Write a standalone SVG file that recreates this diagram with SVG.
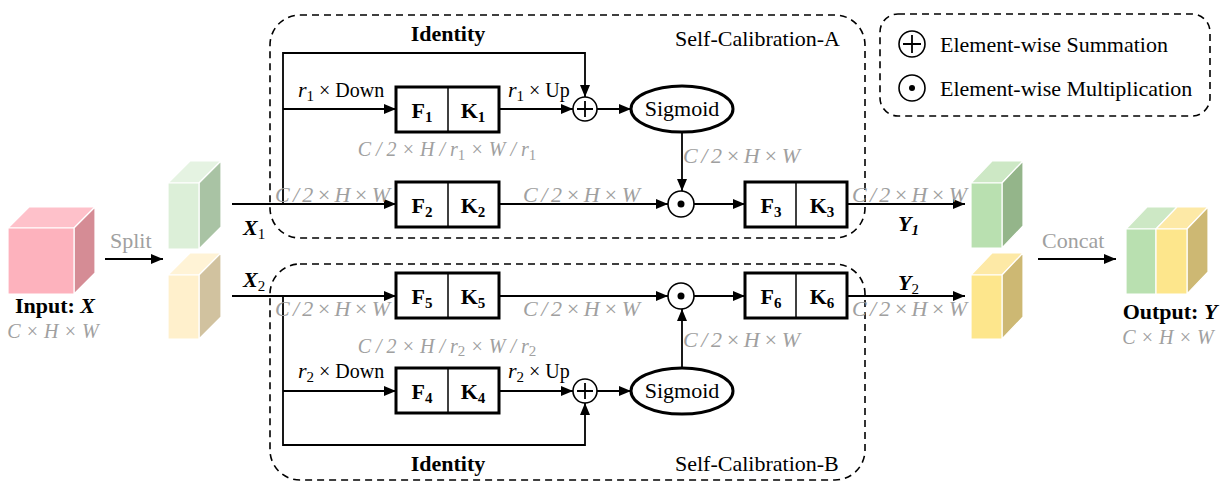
<svg xmlns="http://www.w3.org/2000/svg" width="1226" height="487" viewBox="0 0 1226 487">
<style>
text{font-family:"Liberation Serif","Times New Roman",serif;font-size:22px;fill:#000}
.g{fill:#a0a0a0;font-style:italic}
.gl{fill:#a0a0a0}
.b{font-weight:bold}
.bi{font-weight:bold;font-style:italic}
.it{font-style:italic}
.s{font-size:15px}
.m{font-size:20px}
.ln{fill:none;stroke:#000;stroke-width:1.8}
.ar{fill:none;stroke:#000;stroke-width:1.8;marker-end:url(#ah)}
.dash{fill:none;stroke:#000;stroke-width:1.6;stroke-dasharray:7 5}
.box{fill:#fff;stroke:#000;stroke-width:3}
.div{stroke:#000;stroke-width:1.5}
.circ{fill:#fff;stroke:#000;stroke-width:1.6}
.ell{fill:#fff;stroke:#000;stroke-width:3}
.cube polygon{stroke:#fff;stroke-width:1.2}
</style>
<defs>
<marker id="ah" markerUnits="userSpaceOnUse" markerWidth="12" markerHeight="10" refX="12" refY="5" orient="auto">
<path d="M0,0 L12,5 L0,10 z" fill="#000"/>
</marker>
</defs>

<!-- group boxes -->
<g id="selfcal-a"><rect class="dash" x="270" y="15" width="595" height="223" rx="30"/>
<text x="675" y="46">Self-Calibration-A</text></g>
<g id="selfcal-b"><rect class="dash" x="270" y="264" width="595" height="216" rx="30"/>
<text x="675" y="471">Self-Calibration-B</text></g>

<!-- legend -->
<g id="legend">
<rect class="dash" x="880" y="14" width="330" height="102" rx="18"/>
<circle class="circ" cx="912" cy="44" r="13"/>
<path class="ln" d="M903,44 H921 M912,35 V53"/>
<text x="940" y="52">Element-wise Summation</text>
<circle class="circ" cx="912" cy="88" r="13"/>
<circle cx="912" cy="88" r="3" fill="#000"/>
<text x="940" y="96">Element-wise Multiplication</text>
</g>

<!-- cubes -->
<g id="input" class="cube">
<polygon points="8,228 29,207 95,207 74,228" fill="#fec1ca"/>
<polygon points="74,228 95,207 95,273 74,294" fill="#d58c95"/>
<polygon points="8,228 74,228 74,294 8,294" fill="#fdb2bd"/>
<text x="55" y="313" text-anchor="middle" class="b">Input: <tspan class="bi">X</tspan></text>
<text x="53" y="338" text-anchor="middle" class="g m">C × H × W</text>
</g>
<g id="x1-cube" class="cube">
<polygon points="168,183 190,161 221,161 199,183" fill="#e5f3e2"/>
<polygon points="199,183 221,161 221,227 199,249" fill="#a9c3a4"/>
<polygon points="168,183 199,183 199,249 168,249" fill="#dcefd8"/>
</g>
<g id="x2-cube" class="cube">
<polygon points="168,275 190,253 221,253 199,275" fill="#fff3d6"/>
<polygon points="199,275 221,253 221,317 199,339" fill="#d1c29f"/>
<polygon points="168,275 199,275 199,339 168,339" fill="#fff0cc"/>
</g>
<g id="y1-cube" class="cube">
<polygon points="971,183 992,161 1023,161 1002,183" fill="#cde8c5"/>
<polygon points="1002,183 1023,161 1023,226 1002,248" fill="#94b58a"/>
<polygon points="971,183 1002,183 1002,248 971,248" fill="#b9e0b0"/>
</g>
<g id="y2-cube" class="cube">
<polygon points="971,275 992,253 1023,253 1002,275" fill="#fde9a6"/>
<polygon points="1002,275 1023,253 1023,317 1002,339" fill="#cdb873"/>
<polygon points="971,275 1002,275 1002,339 971,339" fill="#fde68c"/>
</g>
<g id="output" class="cube">
<polygon points="1126,229 1147,207 1177,207 1156,229" fill="#cde8c5"/>
<polygon points="1156,229 1177,207 1208,207 1187,229" fill="#fde9a6"/>
<polygon points="1187,229 1208,207 1208,272 1187,294" fill="#cdb873"/>
<polygon points="1126,229 1156,229 1156,294 1126,294" fill="#b9e0b0"/>
<polygon points="1156,229 1187,229 1187,294 1156,294" fill="#fde68c"/>
<text x="1170" y="319" text-anchor="middle" class="b">Output: <tspan class="bi">Y</tspan></text>
<text x="1168" y="344" text-anchor="middle" class="g m">C × H × W</text>
</g>

<!-- connectors -->
<g id="connectors">
<path class="ar" d="M105,259 H163"/>
<path class="ar" d="M1038,259 H1116"/>
<path class="ar" d="M232,204 H396"/>
<path class="ar" d="M283,204 V53 H585 V97"/>
<path class="ar" d="M283,109 H396"/>
<path class="ar" d="M499,109 H573"/>
<path class="ar" d="M597,109 H631"/>
<path class="ar" d="M682,132 V191"/>
<path class="ar" d="M499,204 H668"/>
<path class="ar" d="M694,204 H745"/>
<path class="ar" d="M847,204 H965"/>
<path class="ar" d="M232,296 H396"/>
<path class="ar" d="M283,296 V445 H585 V403"/>
<path class="ar" d="M283,391 H396"/>
<path class="ar" d="M499,391 H573"/>
<path class="ar" d="M597,391 H631"/>
<path class="ar" d="M682,368 V309"/>
<path class="ar" d="M499,296 H668"/>
<path class="ar" d="M694,296 H745"/>
<path class="ar" d="M847,296 H965"/>
</g>

<!-- labels -->
<g id="labels">
<text x="110" y="248" class="gl">Split</text>
<text x="1042" y="248" class="gl">Concat</text>
<text x="448" y="41" text-anchor="middle" class="b">Identity</text>
<text x="448" y="471" text-anchor="middle" class="b">Identity</text>
<text x="243" y="235" class="bi">X<tspan class="s" style="font-weight:normal;font-style:normal" dy="4">1</tspan></text>
<text x="243" y="287" class="bi">X<tspan class="s" style="font-weight:normal;font-style:normal" dy="4">2</tspan></text>
<text x="898" y="231" class="bi">Y<tspan class="s" dy="4">1</tspan></text>
<text x="898" y="290" class="bi">Y<tspan class="s" style="font-weight:normal;font-style:normal" dy="4">2</tspan></text>
<text x="298" y="97" class="m"><tspan class="it" style="font-size:22px">r</tspan><tspan class="s" dy="4">1</tspan><tspan dy="-4"> × Down</tspan></text>
<text x="508" y="97" class="m"><tspan class="it" style="font-size:22px">r</tspan><tspan class="s" dy="4">1</tspan><tspan dy="-4"> × Up</tspan></text>
<text x="298" y="378" class="m"><tspan class="it" style="font-size:22px">r</tspan><tspan class="s" dy="4">2</tspan><tspan dy="-4"> × Down</tspan></text>
<text x="508" y="378" class="m"><tspan class="it" style="font-size:22px">r</tspan><tspan class="s" dy="4">2</tspan><tspan dy="-4"> × Up</tspan></text>
<text x="447" y="156" text-anchor="middle" class="g m">C / 2 × H / r<tspan class="s" style="font-style:normal" dy="4">1</tspan><tspan dy="-4"> × W / r</tspan><tspan class="s" style="font-style:normal" dy="4">1</tspan></text>
<text x="447" y="353" text-anchor="middle" class="g m">C / 2 × H / r<tspan class="s" style="font-style:normal" dy="3">2</tspan><tspan dy="-3"> × W / r</tspan><tspan class="s" style="font-style:normal" dy="3">2</tspan></text>
<text x="275" y="202" class="g" textLength="115" lengthAdjust="spacing">C / 2 × H × W</text>
<text x="523" y="202" class="g" textLength="117" lengthAdjust="spacing">C / 2 × H × W</text>
<text x="683" y="163" class="g" textLength="117" lengthAdjust="spacing">C / 2 × H × W</text>
<text x="852" y="202" class="g" textLength="115" lengthAdjust="spacing">C / 2 × H × W</text>
<text x="275" y="316" class="g" textLength="115" lengthAdjust="spacing">C / 2 × H × W</text>
<text x="523" y="316" class="g" textLength="117" lengthAdjust="spacing">C / 2 × H × W</text>
<text x="683" y="347" class="g" textLength="117" lengthAdjust="spacing">C / 2 × H × W</text>
<text x="852" y="316" class="g" textLength="115" lengthAdjust="spacing">C / 2 × H × W</text>
</g>

<!-- nodes -->
<g id="fk1"><rect class="box" x="396" y="87" width="103" height="45"/><line class="div" x1="448" y1="87" x2="448" y2="132"/>
<text x="422" y="118" text-anchor="middle" class="b">F<tspan class="s" dy="4">1</tspan></text>
<text x="473" y="118" text-anchor="middle" class="b">K<tspan class="s" dy="4">1</tspan></text></g>
<g id="fk2"><rect class="box" x="396" y="182" width="103" height="45"/><line class="div" x1="448" y1="182" x2="448" y2="227"/>
<text x="422" y="213" text-anchor="middle" class="b">F<tspan class="s" dy="4">2</tspan></text>
<text x="473" y="213" text-anchor="middle" class="b">K<tspan class="s" dy="4">2</tspan></text></g>
<g id="fk3"><rect class="box" x="745" y="182" width="102" height="45"/><line class="div" x1="796" y1="182" x2="796" y2="227"/>
<text x="771" y="213" text-anchor="middle" class="b">F<tspan class="s" dy="4">3</tspan></text>
<text x="822" y="213" text-anchor="middle" class="b">K<tspan class="s" dy="4">3</tspan></text></g>
<g id="fk5"><rect class="box" x="396" y="273" width="103" height="45"/><line class="div" x1="448" y1="273" x2="448" y2="318"/>
<text x="422" y="304" text-anchor="middle" class="b">F<tspan class="s" dy="4">5</tspan></text>
<text x="473" y="304" text-anchor="middle" class="b">K<tspan class="s" dy="4">5</tspan></text></g>
<g id="fk4"><rect class="box" x="396" y="368" width="103" height="45"/><line class="div" x1="448" y1="368" x2="448" y2="413"/>
<text x="422" y="399" text-anchor="middle" class="b">F<tspan class="s" dy="4">4</tspan></text>
<text x="473" y="399" text-anchor="middle" class="b">K<tspan class="s" dy="4">4</tspan></text></g>
<g id="fk6"><rect class="box" x="745" y="273" width="102" height="45"/><line class="div" x1="796" y1="273" x2="796" y2="318"/>
<text x="771" y="304" text-anchor="middle" class="b">F<tspan class="s" dy="4">6</tspan></text>
<text x="822" y="304" text-anchor="middle" class="b">K<tspan class="s" dy="4">6</tspan></text></g>

<g id="sum-a"><circle class="circ" cx="585" cy="109" r="12"/><path class="ln" d="M577,109 H593 M585,101 V117"/></g>
<g id="sum-b"><circle class="circ" cx="585" cy="391" r="12"/><path class="ln" d="M577,391 H593 M585,383 V399"/></g>
<g id="mul-a"><circle class="circ" cx="681" cy="204" r="13"/><circle cx="681" cy="204" r="3.5" fill="#000"/></g>
<g id="mul-b"><circle class="circ" cx="681" cy="296" r="13"/><circle cx="681" cy="296" r="3.5" fill="#000"/></g>
<g id="sigmoid-a"><ellipse class="ell" cx="682" cy="109" rx="51" ry="23"/><text x="682" y="116" text-anchor="middle">Sigmoid</text></g>
<g id="sigmoid-b"><ellipse class="ell" cx="682" cy="391" rx="51" ry="23"/><text x="682" y="398" text-anchor="middle">Sigmoid</text></g>
</svg>
